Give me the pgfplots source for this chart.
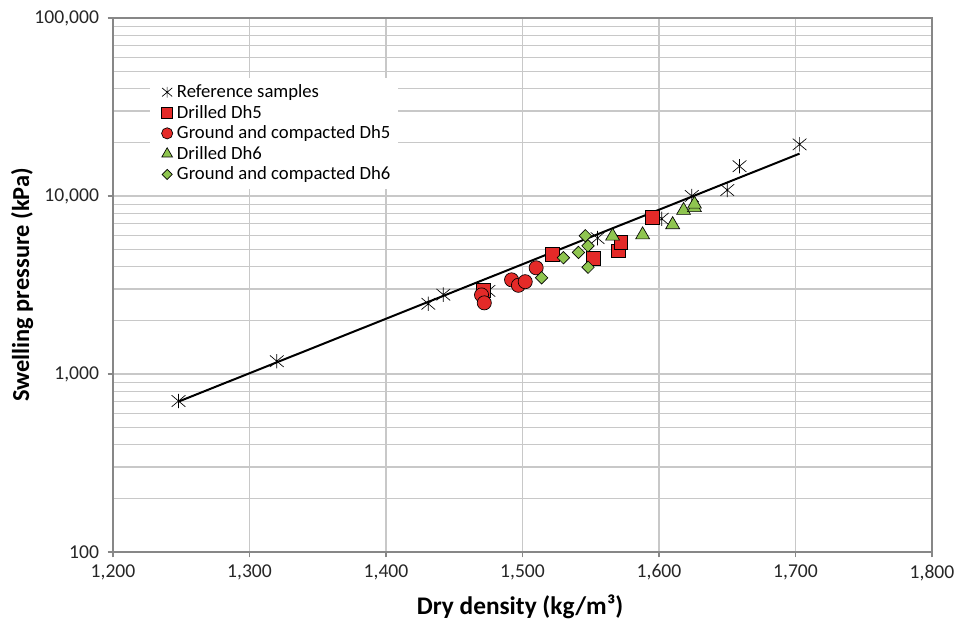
\documentclass[border=0pt]{standalone}
\usepackage{fontspec}
\setmainfont{Carlito}
\usepackage{pgfplots}
\pgfplotsset{compat=1.18}
\definecolor{myred}{HTML}{E42A28}
\definecolor{mygreen}{HTML}{8FC550}
\definecolor{gridc}{HTML}{C8C8C8}
\definecolor{axc}{HTML}{878787}
\pgfdeclareplotmark{xast}{%
 \pgfpathmoveto{\pgfqpoint{-.95\pgfplotmarksize}{-.8\pgfplotmarksize}}%
 \pgfpathlineto{\pgfqpoint{.95\pgfplotmarksize}{.8\pgfplotmarksize}}%
 \pgfpathmoveto{\pgfqpoint{-.95\pgfplotmarksize}{.8\pgfplotmarksize}}%
 \pgfpathlineto{\pgfqpoint{.95\pgfplotmarksize}{-.8\pgfplotmarksize}}%
 \pgfpathmoveto{\pgfqpoint{0pt}{-\pgfplotmarksize}}%
 \pgfpathlineto{\pgfqpoint{0pt}{\pgfplotmarksize}}%
 \pgfusepathqstroke}
\begin{document}
\begin{tikzpicture}
\path[use as bounding box] (-84.75pt,-55.5pt) rectangle (633pt,414pt);
\begin{axis}[
  at={(0,0)}, anchor=south west,
  scale only axis, width=614.25pt, height=400.5pt,
  xmin=1200, xmax=1800, ymin=100, ymax=100000,
  ymode=log,
  xtick={1200,1300,1400,1500,1600,1700,1800},
  xticklabels={{1,200},{1,300},{1,400},{1,500},{1,600},{1,700},{1,800}},
  ytick={100,1000,10000,100000},
  yticklabels={100,{1,000},{10,000},{100,000}},
  minor ytick={200,300,400,500,600,700,800,900,2000,3000,4000,5000,6000,7000,8000,9000,20000,30000,40000,50000,60000,70000,80000,90000},
  xmajorgrids, ymajorgrids, yminorgrids,
  major grid style={draw=gridc, line width=0.9pt},
  minor grid style={draw=gridc, line width=0.9pt},
  axis line style={draw=axc, line width=0.8pt},
  tick style={draw=axc, line width=0.8pt},
  xtick pos=bottom, ytick pos=left,
  tick align=outside, major tick length=4pt, minor tick length=0pt,
  ticklabel style={font=\fontsize{14.7}{15}\selectfont, text=black!85},
  xticklabel style={yshift=-2pt},
  yticklabel style={xshift=-3pt},
  xlabel={Dry density (kg/m³)},
  ylabel={Swelling pressure (kPa)},
  xlabel style={font=\bfseries\fontsize{19}{20}\selectfont, at={(axis description cs:0.497,-0.103)}, anchor=center},
  ylabel style={font=\bfseries\fontsize{18.3}{19}\selectfont, at={(axis description cs:-0.111,0.5)}, anchor=center},
  legend style={at={(0.045,0.888)}, anchor=north west, draw=none, fill=white,
     font=\fontsize{14}{15}\selectfont, row sep=0.2pt, inner xsep=4pt, inner ysep=3pt},
  legend cell align=left,
  legend image code/.code={\path (0cm,0cm) (0.48cm,0cm); \draw[#1] plot coordinates {(0.3cm,0cm)};},
]
\addplot[only marks, mark=xast, mark size=5.4pt, draw=black, line width=0.5pt, legend image post style={mark size=4pt}] coordinates {
 (1248,705) (1320,1180) (1431,2480) (1442,2790) (1475,2930) (1555,5800)
 (1602,7450) (1624,10000) (1650,10800) (1659,14700) (1703,19500)};
\addlegendentry{Reference samples}
\addplot[only marks, mark=square*, mark size=5.2pt, draw=black, fill=myred, line width=0.5pt, legend image post style={mark size=4pt}] coordinates {
 (1471,2950) (1522,4680) (1552,4450) (1570,4920) (1572,5500) (1595,7550)};
\addlegendentry{Drilled Dh5}
\addplot[only marks, mark=*, mark size=5.3pt, draw=black, fill=myred, line width=0.5pt, legend image post style={mark size=4.2pt}] coordinates {
 (1470,2780) (1472,2510) (1492,3380) (1497,3150) (1502,3300) (1510,3950)};
\addlegendentry{Ground and compacted Dh5}
\addplot[only marks, mark=triangle*, mark size=6pt, draw=black, fill=mygreen, line width=0.5pt, legend image post style={mark size=4.6pt}] coordinates {
 (1566,5950) (1588,6050) (1610,6900) (1618,8300) (1626,8600) (1626,9000)};
\addlegendentry{Drilled Dh6}
\addplot[only marks, mark=square*, mark options={rotate=45}, mark size=3.3pt, draw=black, fill=mygreen, line width=0.5pt, legend image post style={mark size=2.7pt}] coordinates {
 (1546,5980) (1548,5250) (1541,4820) (1530,4500) (1548,3980) (1514,3470)};
\addlegendentry{Ground and compacted Dh6}
\addplot[forget plot, black, line width=1.5pt] coordinates {(1248,700) (1703,17300)};
\end{axis}
\end{tikzpicture}
\end{document}
